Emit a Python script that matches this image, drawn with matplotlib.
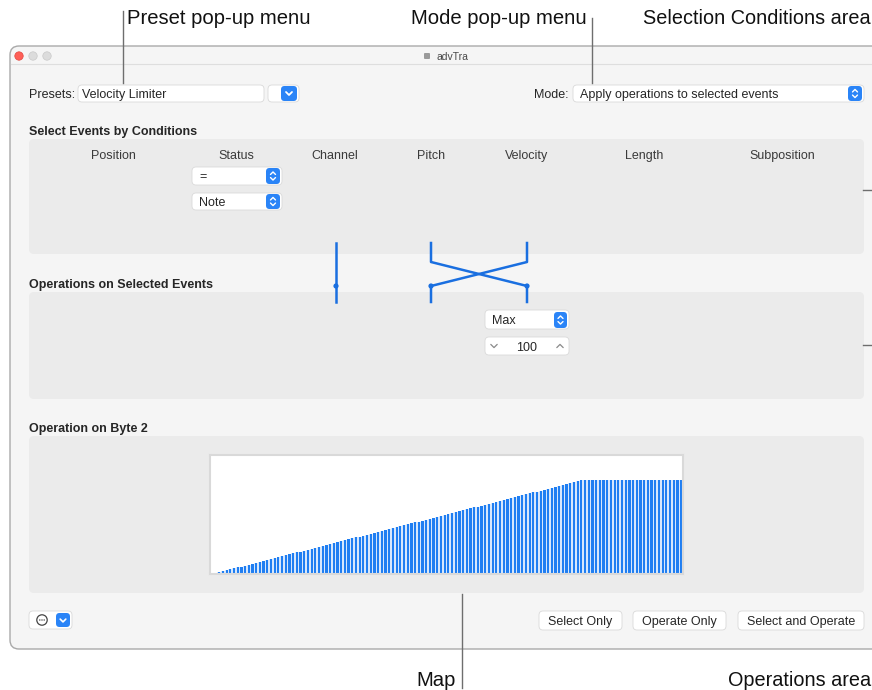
import matplotlib
matplotlib.use("Agg")
import matplotlib.pyplot as plt
from matplotlib.patches import FancyBboxPatch, Circle
import numpy as np

plt.rcParams['font.family'] = ['Liberation Sans', 'DejaVu Sans']

W, H = 872, 690

# texts shown in the window
window_title = "advTra"
preset_name = "Velocity Limiter"
mode_name = "Apply operations to selected events"
condition_columns = ["Position", "Status", "Channel", "Pitch", "Velocity", "Length", "Subposition"]
status_choices = ["=", "Note"]
operation_name = "Max"
operation_value = 100
buttons = ["Select Only", "Operate Only", "Select and Operate"]
callouts = ["Preset pop-up menu", "Mode pop-up menu", "Selection Conditions area", "Map", "Operations area"]

# velocity map: output value for each input 0..127 (limited at 100)
map_output = [
    0, 1, 2, 3, 4, 5, 6, 7, 8, 9, 10, 11, 12, 13, 14, 15,
    16, 17, 18, 19, 20, 21, 22, 23, 24, 25, 26, 27, 28, 29, 30, 31,
    32, 33, 34, 35, 36, 37, 38, 39, 40, 41, 42, 43, 44, 45, 46, 47,
    48, 49, 50, 51, 52, 53, 54, 55, 56, 57, 58, 59, 60, 61, 62, 63,
    64, 65, 66, 67, 68, 69, 70, 71, 72, 73, 74, 75, 76, 77, 78, 79,
    80, 81, 82, 83, 84, 85, 86, 87, 88, 89, 90, 91, 92, 93, 94, 95,
    96, 97, 98, 99, 100, 100, 100, 100, 100, 100, 100, 100, 100, 100, 100, 100,
    100, 100, 100, 100, 100, 100, 100, 100, 100, 100, 100, 100, 100, 100, 100, 100,
]

# layout (pixels)
col_x = [113, 236, 335, 431, 527, 644, 782]
BLUE = '#2a84f7'
LINE_BLUE = '#1a6fe0'
PANEL = '#ebebeb'
WIN_BG = '#f5f5f5'
TXT = '#262626'

fig = plt.figure(figsize=(W / 100, H / 100), dpi=100)
ax = fig.add_axes([0, 0, 1, 1])
ax.set_xlim(0, W)
ax.set_ylim(H, 0)
ax.axis('off')


def rbox(x0, y0, x1, y1, r=4, fc='white', ec='none', lw=0.8, z=2):
    ax.add_patch(FancyBboxPatch((x0, y0), x1 - x0, y1 - y0,
                                boxstyle=f"round,pad=0,rounding_size={r}",
                                fc=fc, ec=ec, lw=lw, zorder=z))


def label(x, y, s, size=9, ha='left', weight='normal', color=TXT, z=6):
    # small downward nudge so the glyphs sit centred like the UI text
    ax.text(x, y + size * 0.17, s, fontsize=size, ha=ha, va='center', fontweight=weight,
            color=color, zorder=z)


def chevron(cx, cy, up=False, s=2.8, color='white', lw=1.2, z=6):
    d = -1 if up else 1
    ax.plot([cx - s, cx, cx + s], [cy - d * s / 2, cy + d * s / 2, cy - d * s / 2],
            color=color, lw=lw, zorder=z, solid_capstyle='round', solid_joinstyle='round')


def stepper(x0, y0, x1, y1):
    rbox(x0, y0, x1, y1, r=3.5, fc=BLUE, z=4)
    cx, cy = (x0 + x1) / 2, (y0 + y1) / 2
    chevron(cx, cy - 2.8, up=True, s=2.5, lw=1.0)
    chevron(cx, cy + 2.8, up=False, s=2.5, lw=1.0)


def popup(x0, y0, x1, y1, text=None, tx=None):
    rbox(x0, y0, x1, y1, r=4, fc='white', ec='#d9d9d9', lw=0.6, z=3)
    if text is not None:
        label(tx if tx is not None else x0 + 7, (y0 + y1) / 2, text)


# window
rbox(10, 46, 900, 649, r=9, fc=WIN_BG, ec='#a9a9a9', lw=1.0, z=1)
ax.plot([10.5, W], [64, 64], color='#dedede', lw=0.8, zorder=2)
ax.add_patch(Circle((19, 56), 4.2, fc='#fe5f57', ec='#e2463f', lw=0.5, zorder=3))
ax.add_patch(Circle((33, 56), 4.2, fc='#dcdcdc', ec='#c9c9c9', lw=0.5, zorder=3))
ax.add_patch(Circle((47, 56), 4.2, fc='#dcdcdc', ec='#c9c9c9', lw=0.5, zorder=3))
rbox(424, 53, 430, 59, r=1, fc='#9a9a9a', z=3)
label(436, 55.5, window_title, size=7.5, color='#4a4a4a')

# presets row
label(29, 93, "Presets:")
popup(78, 85, 264, 102, preset_name, tx=82)
popup(268, 85, 299, 102)
rbox(281, 86, 297, 101, r=3.5, fc=BLUE, z=4)
chevron(289, 93.5, up=False, s=3.0, lw=1.3)

label(568, 93, "Mode:", ha='right')
popup(573, 85, 864, 102, mode_name, tx=580)
stepper(848, 86, 862, 101)

# conditions panel
label(29, 130, "Select Events by Conditions", weight='bold')
rbox(29, 139, 864, 254, r=5, fc=PANEL, z=2)
for name, x in zip(condition_columns, col_x):
    label(x, 154, name, ha='center', color='#3a3a3a')
popup(192, 167, 282, 185, status_choices[0], tx=199)
stepper(266, 168, 280, 184)
popup(192, 193, 282, 210, status_choices[1], tx=199)
stepper(266, 194, 280, 209)

# connector lines between conditions and operations
lk = dict(color=LINE_BLUE, lw=1.8, zorder=7, solid_joinstyle='round')
ax.plot([336, 336], [243, 302], **lk)
ax.plot([431, 431, 527, 527], [243, 262, 286, 302], **lk)
ax.plot([527, 527, 431, 431], [243, 262, 286, 302], **lk)
for x in (336, 431, 527):
    ax.add_patch(Circle((x, 286), 2.6, fc=LINE_BLUE, ec='none', zorder=8))

# operations panel
label(29, 283, "Operations on Selected Events", weight='bold')
rbox(29, 292, 864, 399, r=5, fc=PANEL, z=2)
popup(485, 310, 569, 329, operation_name, tx=492)
stepper(554, 312, 567, 328)
popup(485, 337, 569, 355)
label(527, 346, str(operation_value), ha='center')
chevron(494, 346, up=False, s=3.2, color='#8a8a8a', lw=0.9)
chevron(560, 346, up=True, s=3.2, color='#8a8a8a', lw=0.9)

# byte 2 map panel
label(29, 427, "Operation on Byte 2", weight='bold')
rbox(29, 436, 864, 593, r=5, fc=PANEL, z=2)

# bottom buttons
popup(29, 611, 72, 629)
ax.add_patch(Circle((42, 620), 5.2, fc='none', ec='#444444', lw=0.9, zorder=5))
for dx in (-2.2, 0, 2.2):
    ax.add_patch(Circle((42 + dx, 620), 0.7, fc='#444444', ec='none', zorder=6))
rbox(56, 613, 70, 627, r=3.5, fc=BLUE, z=4)
chevron(63, 620.5, up=False, s=2.8, lw=1.2)
for name, (x0, x1) in zip(buttons, [(539, 622), (633, 726), (738, 864)]):
    popup(x0, 611, x1, 630)
    label((x0 + x1) / 2, 620.5, name, ha='center')

# callouts
CS = 14.6
ck = dict(color='#6e6e6e', lw=1.0, zorder=9)
label(127, 16, callouts[0], size=CS, color='#111111')
ax.plot([123, 123], [11, 83], **ck)
label(411, 16, callouts[1], size=CS, color='#111111')
ax.plot([592, 592], [18, 83], **ck)
# right-hand callouts end right at the picture edge
label(W - 1, 16, callouts[2], size=14.3, ha='right', color='#111111')
ax.plot([863, W], [190, 190], **ck)
ax.plot([863, W], [345, 345], **ck)
label(456, 678, callouts[3], size=CS, ha='right', color='#111111')
ax.plot([462, 462], [594, 688], **ck)
label(W - 1, 678, callouts[4], size=14.3, ha='right', color='#111111')

# the map itself
mx0, my0, mx1, my1 = 210, 455, 683, 574
axm = fig.add_axes([mx0 / W, (H - my1) / H, (mx1 - mx0) / W, (my1 - my0) / H])
idx = np.arange(len(map_output))
axm.bar(idx, map_output, width=1.0, color='#d6e7fc', linewidth=0)
axm.bar(idx, map_output, width=0.6, color='#1f7ef2', linewidth=0)
axm.set_xlim(-0.5, len(map_output) - 0.5)
axm.set_ylim(0, 127)
axm.set_xticks([])
axm.set_yticks([])
axm.set_facecolor('white')
for sp in axm.spines.values():
    sp.set_color('#d9d9d9')
    sp.set_linewidth(1.5)

fig.savefig("out.png", dpi=100, facecolor='white')
